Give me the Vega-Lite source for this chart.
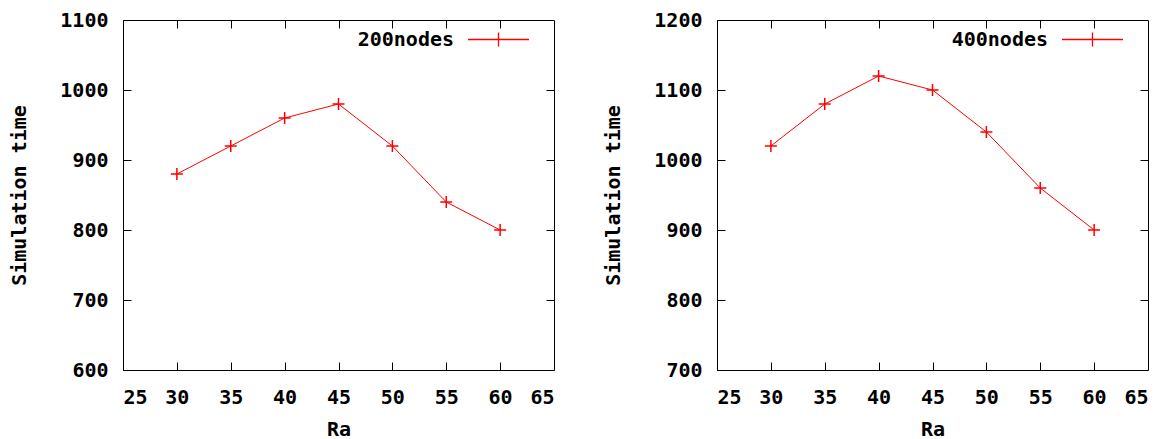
{
  "$schema": "https://vega.github.io/schema/vega-lite/v6.json",
  "padding": {"left": 9, "top": 7, "right": 5, "bottom": 0},
  "datasets": {
    "n200": [
      {"Ra": 30, "time": 880, "series": "200nodes"},
      {"Ra": 35, "time": 920, "series": "200nodes"},
      {"Ra": 40, "time": 960, "series": "200nodes"},
      {"Ra": 45, "time": 980, "series": "200nodes"},
      {"Ra": 50, "time": 920, "series": "200nodes"},
      {"Ra": 55, "time": 840, "series": "200nodes"},
      {"Ra": 60, "time": 800, "series": "200nodes"}
    ],
    "n400": [
      {"Ra": 30, "time": 1020, "series": "400nodes"},
      {"Ra": 35, "time": 1080, "series": "400nodes"},
      {"Ra": 40, "time": 1120, "series": "400nodes"},
      {"Ra": 45, "time": 1100, "series": "400nodes"},
      {"Ra": 50, "time": 1040, "series": "400nodes"},
      {"Ra": 55, "time": 960, "series": "400nodes"},
      {"Ra": 60, "time": 900, "series": "400nodes"}
    ]
  },
  "spacing": 48,
  "hconcat": [
    {
      "width": 431,
      "height": 350,
      "data": {"name": "n200"},
      "layer": [
        {
          "mark": {
            "type": "line",
            "strokeWidth": 1,
            "point": {"shape": "M-1,0H1M0,-1V1", "filled": false, "size": 144, "strokeWidth": 1.5, "color": "#ff0000"}
          },
          "encoding": {
            "x": {"field": "Ra", "type": "quantitative", "scale": {"domain": [25, 65], "nice": false},
                  "axis": {"values": [25, 30, 35, 40, 45, 50, 55, 60, 65], "format": "d", "title": "Ra"}},
            "y": {"field": "time", "type": "quantitative", "scale": {"domain": [600, 1100], "nice": false, "zero": false},
                  "axis": {"values": [600, 700, 800, 900, 1000, 1100], "format": "d", "title": "Simulation time"}},
            "color": {"field": "series", "type": "nominal", "scale": {"range": ["#ff0000"]}}
          }
        },
        {
          "mark": {"type": "point", "opacity": 0},
          "encoding": {
            "x": {"field": "Ra", "type": "quantitative",
                  "axis": {"orient": "top", "labels": false, "title": null, "values": [30, 35, 40, 45, 50, 55, 60]}},
            "y": {"field": "time", "type": "quantitative",
                  "axis": {"orient": "right", "labels": false, "title": null, "values": [700, 800, 900, 1000]}}
          }
        }
      ],
      "resolve": {"axis": {"x": "independent", "y": "independent"}}
    },
    {
      "width": 431,
      "height": 350,
      "data": {"name": "n400"},
      "layer": [
        {
          "mark": {
            "type": "line",
            "strokeWidth": 1,
            "point": {"shape": "M-1,0H1M0,-1V1", "filled": false, "size": 144, "strokeWidth": 1.5, "color": "#ff0000"}
          },
          "encoding": {
            "x": {"field": "Ra", "type": "quantitative", "scale": {"domain": [25, 65], "nice": false},
                  "axis": {"values": [25, 30, 35, 40, 45, 50, 55, 60, 65], "format": "d", "title": "Ra"}},
            "y": {"field": "time", "type": "quantitative", "scale": {"domain": [700, 1200], "nice": false, "zero": false},
                  "axis": {"values": [700, 800, 900, 1000, 1100, 1200], "format": "d", "title": "Simulation time"}},
            "color": {"field": "series", "type": "nominal", "scale": {"range": ["#ff0000"]}}
          }
        },
        {
          "mark": {"type": "point", "opacity": 0},
          "encoding": {
            "x": {"field": "Ra", "type": "quantitative",
                  "axis": {"orient": "top", "labels": false, "title": null, "values": [30, 35, 40, 45, 50, 55, 60]}},
            "y": {"field": "time", "type": "quantitative",
                  "axis": {"orient": "right", "labels": false, "title": null, "values": [800, 900, 1000, 1100]}}
          }
        }
      ],
      "resolve": {"axis": {"x": "independent", "y": "independent"}}
    }
  ],
  "resolve": {"scale": {"color": "independent"}, "legend": {"color": "independent"}},
  "config": {
    "font": "DejaVu Sans Mono",
    "view": {"stroke": "#000000", "strokeWidth": 1},
    "axis": {
      "domain": false,
      "grid": false,
      "ticks": true,
      "tickSize": -8,
      "tickColor": "#000000",
      "tickWidth": 1,
      "labelFont": "DejaVu Sans Mono",
      "labelFontSize": 20,
      "labelFontWeight": "bold",
      "labelColor": "#000000",
      "titleFont": "DejaVu Sans Mono",
      "titleFontSize": 20,
      "titleFontWeight": "bold",
      "titleColor": "#000000"
    },
    "axisY": {"labelPadding": 23, "titlePadding": 30},
    "axisX": {"labelPadding": 25, "titlePadding": 12},
    "legend": {
      "orient": "none",
      "legendX": 344,
      "legendY": -12,
      "title": null,
      "padding": 0,
      "symbolType": "M-1,0H1M0,-0.23V0.23",
      "symbolSize": 3721,
      "symbolStrokeWidth": 1.3,
      "labelAlign": "right",
      "labelOffset": -76,
      "labelFont": "DejaVu Sans Mono",
      "labelFontSize": 20,
      "labelFontWeight": "bold",
      "labelColor": "#000000"
    }
  }
}
